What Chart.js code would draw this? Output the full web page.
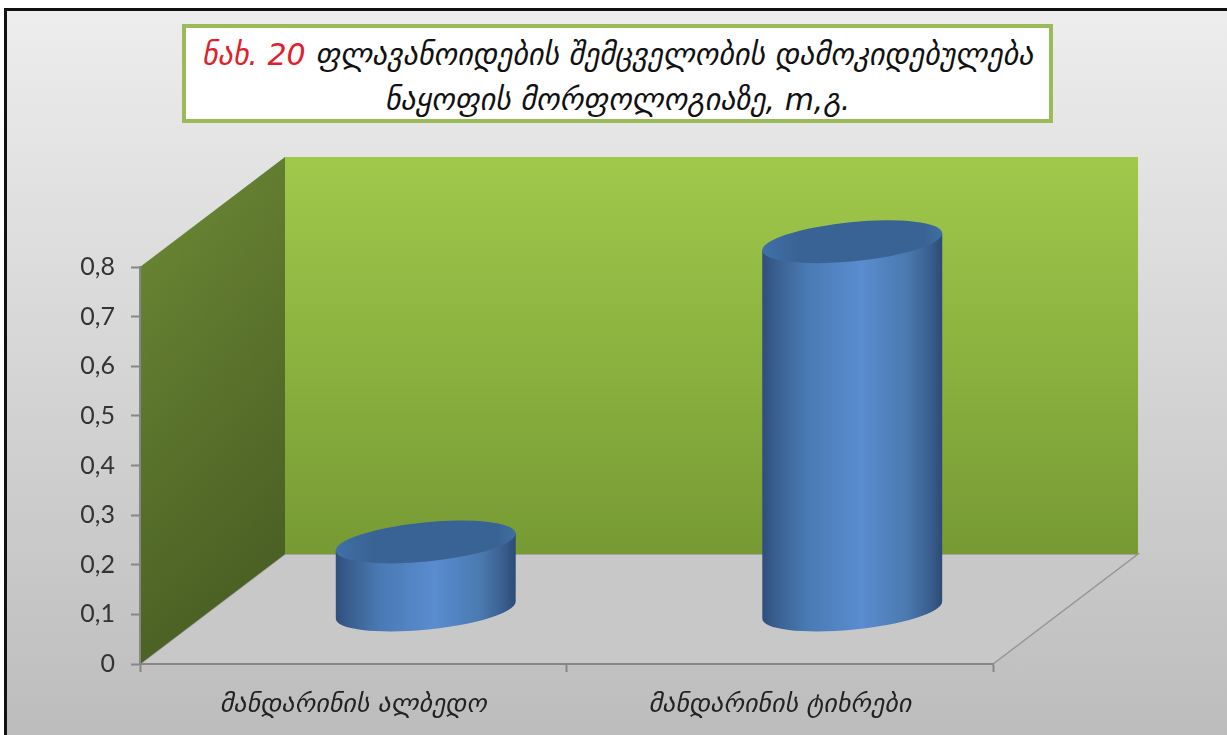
<!DOCTYPE html>
<html>
<head>
<meta charset="utf-8">
<script src="https://cdn.jsdelivr.net/npm/chart.js@4"></script>
<style>
  html, body { margin: 0; padding: 0; background: #fff; overflow: hidden; }
  #frame {
    position: absolute; left: 4px; top: 8px; width: 1240px; height: 740px;
    border: 3px solid #111; box-sizing: border-box;
    background: linear-gradient(#ededed, #bcbcbc);
  }
  #wrap { position: absolute; left: 0; top: 0; width: 1227px; height: 735px; }
  #title {
    position: absolute; left: 182px; top: 24px; width: 871px; height: 99px;
    box-sizing: border-box; border: 4px solid #9bbb59; background: #fff;
    font: italic 30px "DejaVu Sans", sans-serif; color: #111;
    text-align: center; line-height: 45px; padding-top: 4px; white-space: nowrap;
  }
  #title span { color: #e0202c; }
</style>
</head>
<body>
<div id="frame"></div>
<div id="wrap"><canvas id="barChart" width="1227" height="735"></canvas></div>
<div id="title"><span>ნახ. 20</span> ფლავანოიდების შემცველობის დამოკიდებულება<br>ნაყოფის მორფოლოგიაზე, m,გ.</div>
<script>
const categories = ['მანდარინის ალბედო', 'მანდარინის ტიხრები'];
const flavonoids = [0.135, 0.74];
const tickLabels = ['0', '0,1', '0,2', '0,3', '0,4', '0,5', '0,6', '0,7', '0,8'];

// 3d look: how far the back wall sits from the front of the floor
const depthX = 145;
const depthY = 110;

const walls = {
  id: 'walls',
  beforeDraw(chart) {
    const { ctx, chartArea: a } = chart;
    ctx.save();

    // floor
    ctx.fillStyle = '#c8c8c8';
    ctx.beginPath();
    ctx.moveTo(a.left, a.bottom);
    ctx.lineTo(a.left + depthX, a.bottom - depthY);
    ctx.lineTo(a.right + depthX, a.bottom - depthY);
    ctx.lineTo(a.right, a.bottom);
    ctx.closePath();
    ctx.fill();
    ctx.strokeStyle = '#969696';
    ctx.lineWidth = 1.5;
    ctx.stroke();

    // back wall
    const back = ctx.createLinearGradient(0, a.top - depthY, 0, a.bottom - depthY);
    back.addColorStop(0, '#a0c94b');
    back.addColorStop(1, '#779a34');
    ctx.fillStyle = back;
    ctx.fillRect(a.left + depthX, a.top - depthY, a.right - a.left, a.bottom - a.top);

    // left wall
    ctx.beginPath();
    ctx.moveTo(a.left, a.top);
    ctx.lineTo(a.left + depthX, a.top - depthY);
    ctx.lineTo(a.left + depthX, a.bottom - depthY);
    ctx.lineTo(a.left, a.bottom);
    ctx.closePath();
    const side = ctx.createLinearGradient(0, a.top - depthY, 0, a.bottom);
    side.addColorStop(0, '#6e8b35');
    side.addColorStop(1, '#4c6225');
    ctx.fillStyle = side;
    ctx.fill();
    const shade = ctx.createLinearGradient(a.left, 0, a.left + depthX, 0);
    shade.addColorStop(0, 'rgba(0,0,0,0)');
    shade.addColorStop(1, 'rgba(0,0,0,0.1)');
    ctx.fillStyle = shade;
    ctx.fill();

    ctx.restore();
  }
};

// Bars are kept as real bar elements, the cylinder is painted on their position
const cylinders = {
  id: 'cylinders',
  afterDatasetsDraw(chart) {
    const { ctx } = chart;
    const rot = -5.66 * Math.PI / 180;
    const tilt = 8.5;
    chart.getDatasetMeta(0).data.forEach((bar) => {
      const rx = bar.width / 2;
      const a = rx * 1.004;
      const b = 19.6;
      const cx = bar.x + depthX / 2;
      const top = bar.y - depthY / 2;
      const base = bar.base - depthY / 2 + 1.5;
      const t0 = Math.atan2(-b * Math.sin(rot), a * Math.cos(rot));

      ctx.save();
      const body = ctx.createLinearGradient(cx - rx, 0, cx + rx, 0);
      body.addColorStop(0, '#2f4e7c');
      body.addColorStop(0.08, '#3a6090');
      body.addColorStop(0.25, '#4a7ab4');
      body.addColorStop(0.55, '#5a8cd0');
      body.addColorStop(0.8, '#4b7ab0');
      body.addColorStop(0.93, '#3a5f8f');
      body.addColorStop(1, '#2d4a74');
      ctx.fillStyle = body;
      ctx.beginPath();
      ctx.ellipse(cx, base, a, b, rot, t0, t0 + Math.PI, false);
      ctx.lineTo(cx - rx, top + tilt);
      ctx.lineTo(cx + rx, top - tilt);
      ctx.closePath();
      ctx.fill();

      const lid = ctx.createLinearGradient(cx - rx, 0, cx + rx, 0);
      lid.addColorStop(0, '#3f70a8');
      lid.addColorStop(0.2, '#3a6395');
      lid.addColorStop(0.9, '#3a6395');
      lid.addColorStop(1, '#3f6fa4');
      ctx.fillStyle = lid;
      ctx.beginPath();
      ctx.ellipse(cx, top, a, b, rot, 0, Math.PI * 2);
      ctx.fill();
      ctx.restore();
    });
  }
};

new Chart(document.getElementById('barChart').getContext('2d'), {
  type: 'bar',
  data: {
    labels: categories,
    datasets: [{
      label: 'ფლავანოიდები',
      data: flavonoids,
      backgroundColor: 'rgba(0,0,0,0)',
      categoryPercentage: 1,
      barPercentage: 0.422,
    }]
  },
  options: {
    responsive: false,
    animation: false,
    layout: { padding: { top: 267, right: 234, bottom: 0, left: 0 } },
    plugins: {
      legend: { display: false },
      title: { display: false },
      tooltip: { enabled: false },
    },
    scales: {
      y: {
        min: 0,
        max: 0.8,
        afterFit(scale) { scale.width = 140; },
        ticks: {
          stepSize: 0.1,
          color: '#333',
          padding: 16,
          font: { family: 'Lato', size: 25 },
          callback: (value, i) => tickLabels[i],
        },
        border: { color: '#868686', width: 2 },
        grid: { drawOnChartArea: false, tickLength: 9, color: '#868686', tickWidth: 2 },
      },
      x: {
        afterFit(scale) { scale.height = 71; },
        ticks: {
          color: '#222',
          padding: 18,
          font: { family: 'DejaVu Sans', size: 26, style: 'italic' },
        },
        border: { color: '#868686', width: 2 },
        grid: { drawOnChartArea: false, tickLength: 8, color: '#868686', tickWidth: 2 },
      }
    }
  },
  plugins: [walls, cylinders]
});
</script>
</body>
</html>
